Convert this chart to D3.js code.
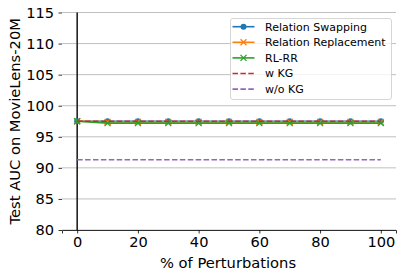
<!DOCTYPE html>
<html><head><meta charset="utf-8">
<script src="https://cdn.jsdelivr.net/npm/d3@7"></script>
<style>body{margin:0;background:#fff}svg{display:block;font-family:"DejaVu Sans",sans-serif}</style>
</head><body><svg id="c" width="403" height="278"></svg>
<script>
const xs = [0,10,20,30,40,50,60,70,80,90,100];
const swapping = [97.5,97.5,97.5,97.5,97.5,97.5,97.5,97.5,97.5,97.5,97.5];
const replacement = [97.5,97.4,97.4,97.4,97.4,97.4,97.4,97.4,97.4,97.4,97.4];
const rlrr = [97.5,97.2,97.2,97.2,97.2,97.2,97.2,97.2,97.2,97.2,97.2];
const wKG = [97.5,97.5];
const woKG = [91.3,91.3];
const refX = [0,100];
const yTicks = [80,85,90,95,100,105,110,115];
const xTicks = [0,20,40,60,80,100];
const names = ["Relation Swapping","Relation Replacement","RL-RR","w KG","w/o KG"];
const colors = ["#1f77b4","#ff7f0e","#2ca02c","#d62728","#9467bd"];

const svg = d3.select("#c");
const L=62, R=396, T=12.5, B=230;
const x = d3.scaleLinear().domain([-5,105]).range([L,R]);
const y = d3.scaleLinear().domain([80,115]).range([B,T]);

// grid
svg.append("g").selectAll("line").data(yTicks).join("line")
  .attr("x1",L).attr("x2",R).attr("y1",d=>y(d)).attr("y2",d=>y(d))
  .attr("stroke","#b0b0b0").attr("stroke-width",0.8);

// axes
const ya = svg.append("g").attr("transform",`translate(${L},0)`)
  .call(d3.axisLeft(y).tickValues(yTicks).tickSize(3.5).tickPadding(4.5).tickFormat(d3.format("d")));
ya.select(".domain").remove();
const xa = svg.append("g").attr("transform",`translate(0,${B})`)
  .call(d3.axisBottom(x).tickValues(xTicks).tickSize(3.5).tickPadding(3.5).tickFormat(d3.format("d")));
xa.select(".domain").attr("stroke","#000").attr("stroke-width",0.8);
svg.selectAll(".tick text").attr("font-size",14.6).attr("font-family","DejaVu Sans").attr("fill","#000");
svg.selectAll(".tick line").attr("stroke","#000").attr("stroke-width",0.8);

// vertical line at x=0
svg.append("line").attr("x1",x(0)).attr("x2",x(0)).attr("y1",T).attr("y2",B)
  .attr("stroke","#222").attr("stroke-width",1.6);

const line = d3.line().x(d=>x(d[0])).y(d=>y(d[1]));
function xMarker(g, cx, cy, col){
  const s=3;
  g.append("path").attr("d",`M${cx-s},${cy-s}L${cx+s},${cy+s}M${cx-s},${cy+s}L${cx+s},${cy-s}`)
   .attr("stroke",col).attr("stroke-width",1.3).attr("fill","none");
}
const series = [swapping, replacement, rlrr];
series.forEach((s,i)=>{
  const pts = xs.map((v,j)=>[v,s[j]]);
  const g = svg.append("g");
  g.append("path").attr("d",line(pts)).attr("fill","none").attr("stroke",colors[i]).attr("stroke-width",1.6);
  pts.forEach(p=>{
    if(i===0) g.append("circle").attr("cx",x(p[0])).attr("cy",y(p[1])).attr("r",3).attr("fill",colors[i]);
    else xMarker(g,x(p[0]),y(p[1]),colors[i]);
  });
});
svg.append("path").attr("d",line(refX.map((v,j)=>[v,wKG[j]]))).attr("fill","none")
  .attr("stroke",colors[3]).attr("stroke-width",1.6).attr("stroke-dasharray","5.5,2.4");
svg.append("path").attr("d",line(refX.map((v,j)=>[v,woKG[j]]))).attr("fill","none")
  .attr("stroke",colors[4]).attr("stroke-width",1.6).attr("stroke-dasharray","5.5,2.4");

// labels
svg.append("text").attr("x",228).attr("y",268).attr("text-anchor","middle")
  .attr("font-size",14.7).text("% of Perturbations");
svg.append("text").attr("transform",`translate(19.5,${(T+B)/2}) rotate(-90)`).attr("text-anchor","middle")
  .attr("font-size",14.7).text("Test AUC on MovieLens-20M");

// legend
const lg = svg.append("g");
lg.append("rect").attr("x",230.5).attr("y",18.5).attr("width",161).attr("height",81).attr("rx",2.5)
  .attr("fill","#fff").attr("fill-opacity",0.8).attr("stroke","#cccccc").attr("stroke-width",0.8);
names.forEach((n,i)=>{
  const yy = 26.7 + i*15.6;
  const gl = lg.append("g");
  const ln = gl.append("line").attr("x1",232.5).attr("x2",254.5).attr("y1",yy).attr("y2",yy)
    .attr("stroke",colors[i]).attr("stroke-width",1.6);
  if(i>=3) ln.attr("stroke-dasharray","5.5,2.4");
  if(i===0) gl.append("circle").attr("cx",243.5).attr("cy",yy).attr("r",3).attr("fill",colors[i]);
  if(i===1||i===2) xMarker(gl,243.5,yy,colors[i]);
  lg.append("text").attr("x",265).attr("y",yy+3.8).attr("font-size",11).text(n);
});
</script></body></html>
